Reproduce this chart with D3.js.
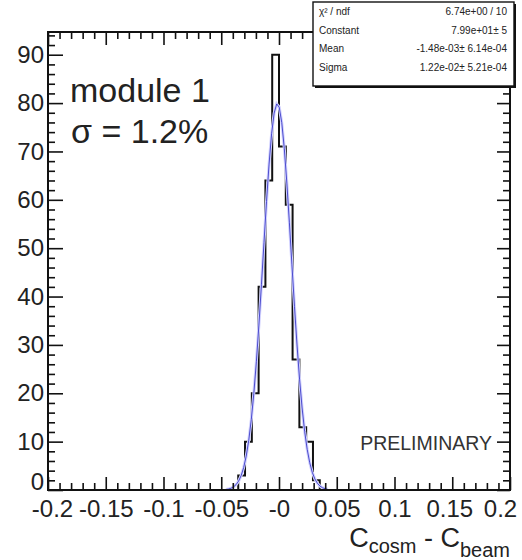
<!DOCTYPE html>
<html>
<head>
<meta charset="utf-8">
<script src="https://cdn.jsdelivr.net/npm/d3@7"></script>
<style>
  html, body { margin: 0; padding: 0; background: #fff; }
  svg { display: block; font-family: "Liberation Sans", Arial, Helvetica, sans-serif; }
</style>
</head>
<body>
<svg id="chart" width="522" height="560"></svg>
<script>
// Histogram of C_cosm - C_beam: 68 equal bins on [-0.2, 0.2]
const xRange = [-0.2, 0.2];
const nBins = 68;
const firstFilledBin = 28;
const binCounts = [3, 10, 20, 42, 64, 90, 71, 59, 27, 13, 10, 2];

// Gaussian fit results shown in the statistics box
const fitNames = ["\u03C7\u00B2 / ndf", "Constant", "Mean", "Sigma"];
const fitValues = ["6.74e+00 / 10", "7.99e+01\u00B1 5", "-1.48e-03\u00B1 6.14e-04", "1.22e-02\u00B1 5.21e-04"];
const fitConstant = 79.9;
const fitMean = -1.48e-3;
const fitSigma = 1.22e-2;
const fitRange = [-0.046, 0.042];

// Axis ticks
const xTickValues = [-0.2, -0.15, -0.1, -0.05, 0, 0.05, 0.1, 0.15, 0.2];
const xTickLabels = ["-0.2", "-0.15", "-0.1", "-0.05", "-0", "0.05", "0.1", "0.15", "0.2"];
const yTickValues = [0, 10, 20, 30, 40, 50, 60, 70, 80, 90];
const yTickLabels = ["0", "10", "20", "30", "40", "50", "60", "70", "80", "90"];
const yMax = 94.7;

const svg = d3.select("#chart");
const frame = { left: 48, right: 510, top: 32, bottom: 490 };

const x = d3.scaleLinear().domain(xRange).range([frame.left, frame.right]);
const y = d3.scaleLinear().domain([0, yMax]).range([frame.bottom, frame.top]);

const binWidth = (xRange[1] - xRange[0]) / nBins;
const xMinor = d3.range(-0.2, 0.2001, 0.01).filter(v => !xTickValues.some(t => Math.abs(t - v) < 1e-6));
const yMinor = d3.range(0, yMax, 2).filter(v => v % 10 !== 0);

// Clip region for data marks
svg.append("clipPath").attr("id", "plotClip")
  .append("rect")
  .attr("x", frame.left).attr("y", frame.top)
  .attr("width", frame.right - frame.left).attr("height", frame.bottom - frame.top);

// Histogram outline
const histPoints = [[x(xRange[0] + firstFilledBin * binWidth), y(0)]];
binCounts.forEach((c, i) => {
  const lo = xRange[0] + (firstFilledBin + i) * binWidth;
  histPoints.push([x(lo), y(c)], [x(lo + binWidth), y(c)]);
});
histPoints.push([x(xRange[0] + (firstFilledBin + binCounts.length) * binWidth), y(0)]);

svg.append("path")
  .attr("clip-path", "url(#plotClip)")
  .attr("d", d3.line()(histPoints))
  .attr("fill", "none")
  .attr("stroke", "#111")
  .attr("stroke-width", 2)
  .attr("stroke-linejoin", "miter");

// Gaussian fit curve
const gauss = v => fitConstant * Math.exp(-0.5 * Math.pow((v - fitMean) / fitSigma, 2));
const fitXs = d3.range(fitRange[0], fitRange[1] + 1e-9, (fitRange[1] - fitRange[0]) / 40);
const fitLine = d3.line().x(d => x(d)).y(d => y(gauss(d)));
const fitG = svg.append("g").attr("clip-path", "url(#plotClip)");
fitG.append("path").attr("d", fitLine(fitXs))
  .attr("fill", "none").attr("stroke", "#d2d2ff").attr("stroke-width", 3);
fitG.append("path").attr("d", fitLine(fitXs))
  .attr("fill", "none").attr("stroke", "#3434c4").attr("stroke-width", 1)
  .attr("stroke-opacity", 0.85);

// Axes: ticks drawn on the inner side of the frame
function styleAxis(g) {
  g.select(".domain").remove();
  g.selectAll(".tick line").attr("stroke", "#111").attr("stroke-width", 1.6);
  g.selectAll(".tick text").attr("fill", "#222").style("font-size", "24px");
}

// small horizontal nudges keep the crowded bottom labels inside the page
const xLabelShift = ["-0.2", "0.15", "0.2"];
const xLabelDx = [4, -3, -10];

// bottom
svg.append("g").attr("transform", `translate(0,${frame.bottom})`)
  .call(d3.axisBottom(x).tickValues(xMinor).tickSize(-7).tickFormat(""))
  .call(styleAxis);
svg.append("g").attr("transform", `translate(0,${frame.bottom})`)
  .call(d3.axisBottom(x).tickValues(xTickValues).tickSize(-13).tickPadding(10)
    .tickFormat((d, i) => xTickLabels[i]))
  .call(styleAxis)
  .call(g => g.selectAll(".tick text").attr("dx", function () {
    const k = xLabelShift.indexOf(this.textContent);
    return k >= 0 ? xLabelDx[k] : 0;
  }));
// top
svg.append("g").attr("transform", `translate(0,${frame.top})`)
  .call(d3.axisTop(x).tickValues(xMinor).tickSize(-7).tickFormat(""))
  .call(styleAxis);
svg.append("g").attr("transform", `translate(0,${frame.top})`)
  .call(d3.axisTop(x).tickValues(xTickValues).tickSize(-13).tickFormat(""))
  .call(styleAxis);
// left
svg.append("g").attr("transform", `translate(${frame.left},0)`)
  .call(d3.axisLeft(y).tickValues(yMinor).tickSize(-7).tickFormat(""))
  .call(styleAxis);
svg.append("g").attr("transform", `translate(${frame.left},0)`)
  .call(d3.axisLeft(y).tickValues(yTickValues).tickSize(-15).tickPadding(4)
    .tickFormat((d, i) => yTickLabels[i]))
  .call(styleAxis)
  // the zero label sits a little higher so it clears the first bottom label
  .call(g => g.selectAll(".tick text").filter(d => d === 0).attr("y", -8));
// right
svg.append("g").attr("transform", `translate(${frame.right},0)`)
  .call(d3.axisRight(y).tickValues(yMinor).tickSize(-7).tickFormat(""))
  .call(styleAxis);
svg.append("g").attr("transform", `translate(${frame.right},0)`)
  .call(d3.axisRight(y).tickValues(yTickValues).tickSize(-13).tickFormat(""))
  .call(styleAxis);

// Frame
svg.append("rect")
  .attr("x", frame.left).attr("y", frame.top)
  .attr("width", frame.right - frame.left).attr("height", frame.bottom - frame.top)
  .attr("fill", "none").attr("stroke", "#111").attr("stroke-width", 2);

// Annotations
svg.append("text").attr("x", 70).attr("y", 102)
  .attr("fill", "#222").style("font-size", "34px").text("module 1");
svg.append("text").attr("x", 71).attr("y", 143)
  .attr("fill", "#222").style("font-size", "34px").text("\u03C3 = 1.2%");
svg.append("text").attr("x", 492).attr("y", 450).attr("text-anchor", "end")
  .attr("fill", "#333").style("font-size", "19.5px").text("PRELIMINARY");

// Axis title
const title = svg.append("text").attr("x", 510).attr("y", 547)
  .attr("text-anchor", "end").attr("fill", "#222").style("font-size", "27px");
title.append("tspan").text("C");
title.append("tspan").attr("dy", 6).style("font-size", "20px").text("cosm");
title.append("tspan").attr("dy", -6).text(" - C");
title.append("tspan").attr("dy", 10).style("font-size", "20px").text("beam");

// Statistics box
const box = { x: 313, y: 2, w: 201, h: 84 };
svg.append("rect").attr("x", box.x + 2).attr("y", box.y + 2)
  .attr("width", box.w).attr("height", box.h).attr("fill", "#111");
svg.append("rect").attr("x", box.x).attr("y", box.y)
  .attr("width", box.w).attr("height", box.h)
  .attr("fill", "#fff").attr("stroke", "#111").attr("stroke-width", 1.4);
const rowH = 18.7;
fitNames.forEach((name, i) => {
  const cy = box.y + 9.5 + rowH * i;
  svg.append("text").attr("x", box.x + 6).attr("y", cy).attr("dy", "0.35em")
    .attr("fill", "#222").style("font-size", "10px").text(name);
  svg.append("text").attr("x", box.x + box.w - 7).attr("y", cy).attr("dy", "0.35em")
    .attr("text-anchor", "end").attr("fill", "#222").style("font-size", "10px").text(fitValues[i]);
});
</script>
</body>
</html>
